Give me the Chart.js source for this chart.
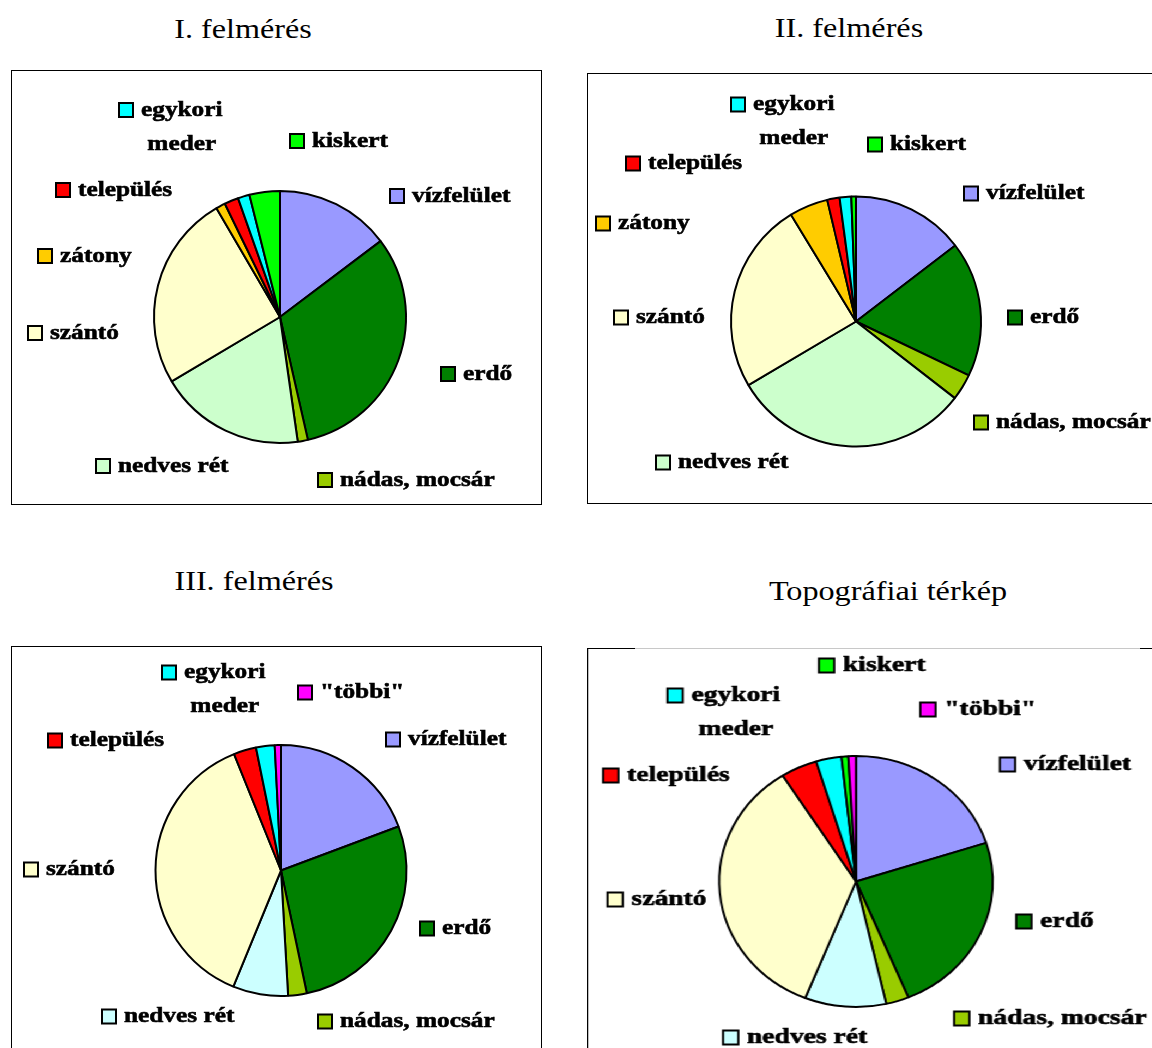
<!DOCTYPE html>
<html lang="hu">
<head>
<meta charset="utf-8">
<title>Felmérések</title>
<script src="https://cdn.jsdelivr.net/npm/chart.js@4.4.1/dist/chart.umd.min.js"></script>
<style>
  html, body { margin: 0; padding: 0; background: #fff; }
  body { position: relative; width: 1152px; height: 1048px; overflow: hidden;
         font-family: "Liberation Serif", "Times New Roman", serif; }
  .title { position: absolute; font-size: 28px; line-height: 28px; white-space: nowrap; color: #000;
           transform: translateX(-50%) scaleX(1.15); }
  .panel { position: absolute; }
  .panel canvas { position: absolute; left: 0; top: 0; }
  .frame { position: absolute; left: 0; top: 0; border: 1px solid #000; box-sizing: border-box; pointer-events: none; }
  .rule { position: absolute; height: 1px; }
</style>
</head>
<body>

<div class="title" style="left:243px; top:15px">I. felmérés</div>
<div class="title" style="left:849px; top:14px">II. felmérés</div>
<div class="title" style="left:254px; top:567px">III. felmérés</div>
<div class="title" style="left:888px; top:577px">Topográfiai térkép</div>

<div class="panel" style="left:11px; top:70px; width:531px; height:435px">
  <canvas id="pie1" width="531" height="435"></canvas>
  <div class="frame" style="width:531px; height:435px"></div>
</div>

<div class="panel" style="left:587px; top:73px; width:580px; height:431px">
  <canvas id="pie2" width="580" height="431"></canvas>
  <div class="frame" style="width:580px; height:431px"></div>
</div>

<div class="panel" style="left:11px; top:646px; width:531px; height:420px">
  <canvas id="pie3" width="531" height="420"></canvas>
  <div class="frame" style="width:531px; height:420px"></div>
</div>

<!-- the map panel is drawn a bit wider than tall -->
<div class="panel" style="left:587px; top:648px; width:540px; height:420px; transform:scaleX(1.09); transform-origin:0 0">
  <canvas id="pie4" width="540" height="420"></canvas>
  <div class="frame" style="width:540px; height:420px; border-top:none"></div>
</div>
<div class="rule" style="left:587px; top:648px; width:48px; background:#000"></div>
<div class="rule" style="left:635px; top:648px; width:505px; background:#c8c8c8"></div>
<div class="rule" style="left:1140px; top:648px; width:12px; background:#000"></div>

<script>
// land use shares (%), clockwise from 12 o'clock
const labels1 = ["vízfelület", "erdő", "nádas, mocsár", "nedves rét", "szántó", "zátony", "település", "egykori meder", "kiskert"];
const values1 = [14.7, 31.7, 1.3, 18.7, 25.1, 1.2, 1.8, 1.5, 3.9];

const labels2 = ["vízfelület", "erdő", "nádas, mocsár", "nedves rét", "szántó", "zátony", "település", "egykori meder", "kiskert"];
const values2 = [14.6, 17.5, 3.4, 31.0, 24.8, 5.0, 1.6, 1.5, 0.6];

const labels3 = ["vízfelület", "erdő", "nádas, mocsár", "nedves rét", "szántó", "település", "egykori meder", "\"többi\""];
const values3 = [19.3, 27.4, 2.4, 7.1, 37.7, 2.9, 2.4, 0.8];

const labels4 = ["vízfelület", "erdő", "nádas, mocsár", "nedves rét", "szántó", "település", "egykori meder", "kiskert", "\"többi\""];
const values4 = [20.0, 23.7, 2.7, 9.6, 34.9, 4.3, 3.0, 0.8, 0.9];

// colours
const colors1 = ["#9999FF", "#008000", "#99CC00", "#CCFFCC", "#FFFFCC", "#FFCC00", "#FF0000", "#00FFFF", "#00FF00"];
const colors2 = colors1;
const colors3 = ["#9999FF", "#008000", "#99CC00", "#CCFFFF", "#FFFFCC", "#FF0000", "#00FFFF", "#FF00FF"];
const colors4 = ["#9999FF", "#008000", "#99CC00", "#CCFFFF", "#FFFFCC", "#FF0000", "#00FFFF", "#00FF00", "#FF00FF"];

// label spots: [dx, dy] of the key square from the pie centre, third item = wrap to two lines
const spots1 = [[110, -121], [161, 57], [38, 163], [-184, 149], [-252, 16], [-242, -61], [-224, -127], [-161, -207, true], [10, -176]];
const spots2 = [[108, -128], [152, -4], [118, 101], [-200, 141], [-242, -4], [-260, -98], [-230, -158], [-125, -217, true], [12, -177]];
const spots3 = [[105, -131], [139, 58], [37, 151], [-179, 146], [-257, -1], [-233, -130], [-119, -198, true], [17, -178]];
const spots4 = [[132, -117], [147, 40], [90, 137], [-122, 156], [-228, 18], [-232, -106], [-173, -186, true], [-34, -216], [59, -172]];

const KEY = 14;

function sliceLabels(spots) {
  return {
    id: 'sliceLabels',
    afterDraw(chart) {
      const ctx = chart.ctx;
      const ds = chart.data.datasets[0];
      const arcs = chart.getDatasetMeta(0).data;
      ctx.save();
      ctx.font = 'bold 22px "Liberation Serif", "Times New Roman", serif';
      ctx.textBaseline = 'middle';
      spots.forEach((s, i) => {
        const x = arcs[i].x + s[0];
        const y = arcs[i].y + s[1];
        ctx.fillStyle = ds.backgroundColor[i];
        ctx.fillRect(x, y - KEY / 2, KEY, KEY);
        ctx.lineWidth = 2;
        ctx.strokeStyle = '#000';
        ctx.strokeRect(x, y - KEY / 2, KEY, KEY);

        const name = chart.data.labels[i];
        const lines = s[2] ? name.split(' ') : [name];
        const tx = x + KEY + 8;
        const w0 = ctx.measureText(lines[0]).width * 1.15;
        ctx.fillStyle = '#000';
        ctx.lineWidth = 0.6;
        lines.forEach((line, k) => {
          const lw = ctx.measureText(line).width * 1.15;
          const lx = k === 0 ? tx : tx + (w0 - lw) / 2;
          ctx.save();
          ctx.translate(lx, y + k * 34);
          ctx.scale(1.15, 1);
          ctx.fillText(line, 0, 0);
          ctx.strokeText(line, 0, 0);   // a touch heavier
          ctx.restore();
        });
      });
      ctx.restore();
    }
  };
}

function drawPie(id, labels, values, colors, spots, cx, cy, radius) {
  const canvas = document.getElementById(id);
  const side = 2 * radius + 2;
  const left = cx - side / 2;
  const top = cy - side / 2;
  new Chart(canvas, {
    type: 'pie',
    data: {
      labels: labels,
      datasets: [{
        data: values,
        backgroundColor: colors,
        borderColor: '#000',
        borderWidth: 2,
        radius: radius
      }]
    },
    options: {
      responsive: false,
      animation: false,
      layout: { padding: { left: left, top: top, right: canvas.width - left - side, bottom: canvas.height - top - side } },
      plugins: { legend: { display: false }, tooltip: { enabled: false } }
    },
    plugins: [sliceLabels(spots)]
  });
}

drawPie('pie1', labels1, values1, colors1, spots1, 269, 247, 126);
drawPie('pie2', labels2, values2, colors2, spots2, 269, 248.5, 125);
drawPie('pie3', labels3, values3, colors3, spots3, 270, 224.5, 125.5);
drawPie('pie4', labels4, values4, colors4, spots4, 246.8, 233.5, 125.5);
</script>
</body>
</html>
